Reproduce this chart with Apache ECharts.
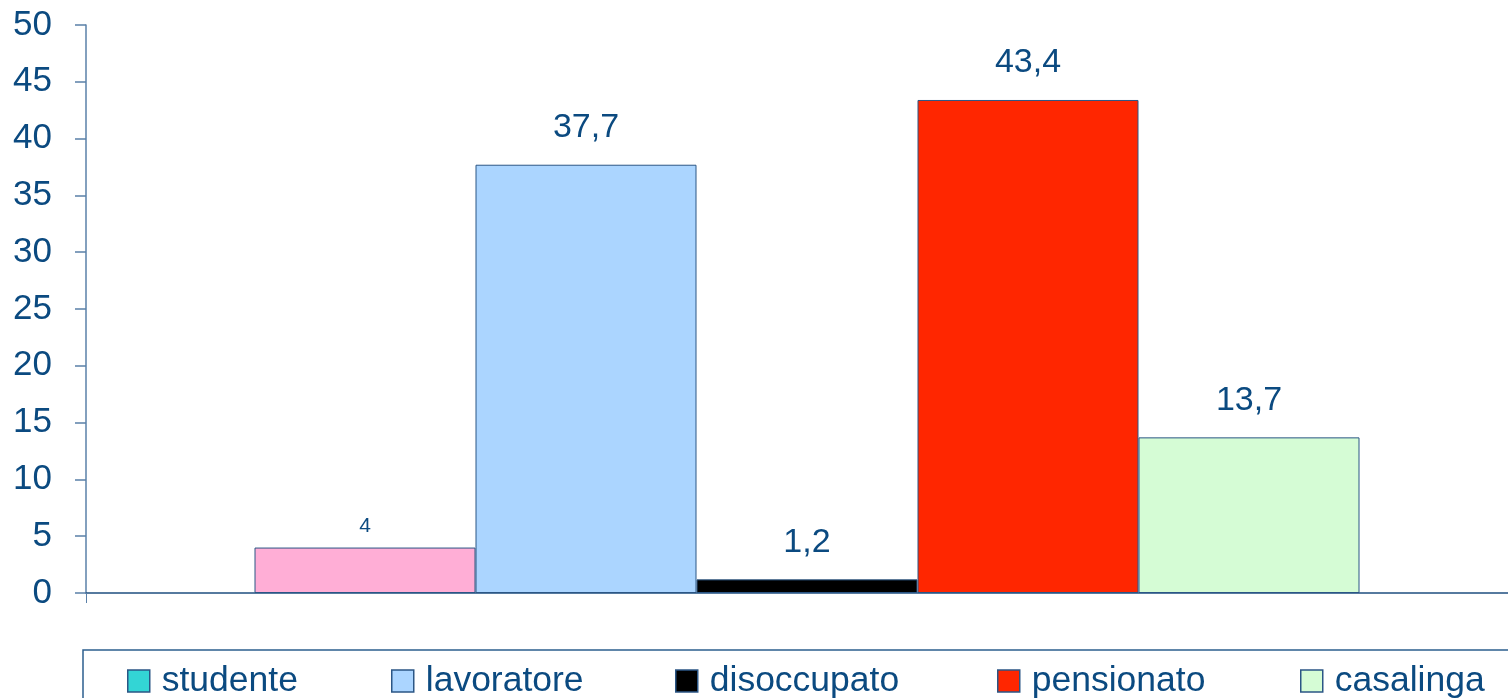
<!DOCTYPE html>
<html>
<head>
<meta charset="utf-8">
<script src="https://cdn.jsdelivr.net/npm/echarts@6/dist/echarts.min.js"></script>
<style>
  html, body { margin: 0; padding: 0; background: #fff; overflow: hidden; }
  /* plot area runs a bit past the right edge of the picture */
  #chart { width: 1528px; height: 698px; }
</style>
</head>
<body>
<div id="chart"></div>
<script>
// data
const seriesNames = ["studente", "lavoratore", "disoccupato", "pensionato", "casalinga"];
const values = [4, 37.7, 1.2, 43.4, 13.7];
const barColors = ["#ffaed6", "#abd5ff", "#000000", "#ff2600", "#d5fcd5"];
const legendColors = ["#33d5d5", "#abd5ff", "#000000", "#ff2600", "#d5fcd5"];
const labelSizes = [21, 34, 34, 34, 34];
const yTicks = [0, 5, 10, 15, 20, 25, 30, 35, 40, 45, 50];

const navy = "#0b4a80";
const legendLeft = [127, 391, 675, 997, 1300];

let myChart = echarts.init(document.getElementById("chart"));

let option = {
  animation: false,
  textStyle: { fontFamily: "Liberation Sans, Arial, sans-serif" },
  grid: { left: 86, right: 0, top: 25, bottom: 105 },
  xAxis: {
    type: "category",
    data: [""],
    axisLine: { lineStyle: { color: "#1f4f80", width: 1.5 } },
    axisTick: { show: true, length: 10, lineStyle: { color: "#5a80a8" } },
    axisLabel: { show: false }
  },
  yAxis: {
    type: "value",
    min: yTicks[0],
    max: yTicks[yTicks.length - 1],
    interval: 5,
    axisLine: { show: true, lineStyle: { color: "#5a80a8", width: 1.5 } },
    axisTick: { show: true, length: 11, lineStyle: { color: "#5a80a8", width: 1.5 } },
    splitLine: { show: false },
    axisLabel: { color: navy, fontSize: 35, margin: 34 }
  },
  legend: seriesNames.map((name, i) => ({
    data: [name],
    left: legendLeft[i],
    top: 663,
    padding: 0,
    itemWidth: 22,
    itemHeight: 22,
    icon: "rect",
    itemStyle: { borderColor: "#2b5685", borderWidth: 1.5 },
    textStyle: { color: navy, fontSize: 35.5, lineHeight: 28, padding: [0, 0, 0, 7] }
  })),
  graphic: [
    {
      type: "rect",
      shape: { x: 83, y: 650, width: 1440, height: 70 },
      style: { fill: "none", stroke: "#2d5f8f", lineWidth: 1.5 }
    }
  ],
  series: seriesNames.map((name, i) => ({
    name: name,
    type: "bar",
    barWidth: 221,
    barGap: "0%",
    itemStyle: { color: legendColors[i], borderColor: "#2b5685", borderWidth: 1 },
    data: [{ value: values[i], itemStyle: { color: barColors[i] } }],
    label: {
      show: true,
      position: "top",
      distance: i === 0 ? 11 : 20,
      color: navy,
      fontSize: labelSizes[i],
      formatter: p => String(p.value).replace(".", ",")
    }
  }))
};

option && myChart.setOption(option);
</script>
</body>
</html>
